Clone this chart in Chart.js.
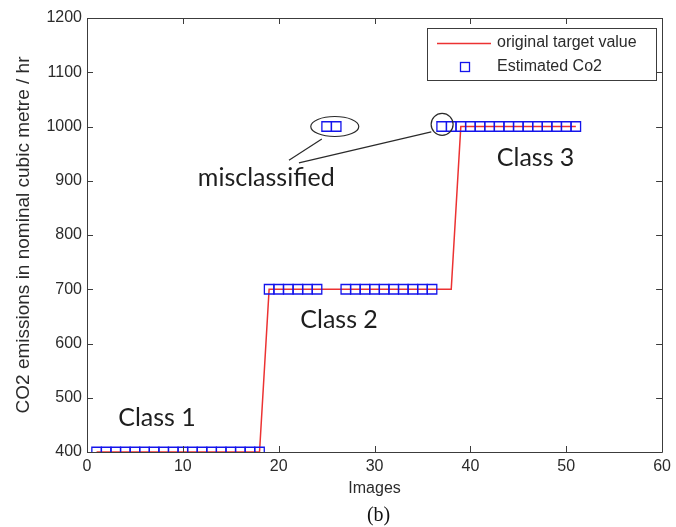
<!DOCTYPE html>
<html>
<head>
<meta charset="utf-8">
<script src="https://cdn.jsdelivr.net/npm/chart.js@4/dist/chart.umd.min.js"></script>
<style>
  html, body { margin: 0; padding: 0; background: #ffffff; }
  #wrap { width: 676px; height: 527px; }
</style>
</head>
<body>
<div id="wrap"><canvas id="co2Chart" width="676" height="527"></canvas></div>
<script>
// Image index along the x axis
const images = [1, 2, 3, 4, 5, 6, 7, 8, 9, 10, 11, 12, 13, 14, 15, 16, 17, 18,
  19, 20, 21, 22, 23, 24, 25, 26, 27, 28, 29, 30, 31, 32, 33, 34, 35, 36, 37, 38,
  39, 40, 41, 42, 43, 44, 45, 46, 47, 48, 49, 50, 51];

// Original target value (nominal m3/hr)
const targetValue = [400, 400, 400, 400, 400, 400, 400, 400, 400, 400, 400, 400, 400, 400, 400, 400, 400, 400,
  700, 700, 700, 700, 700, 700, 700, 700, 700, 700, 700, 700, 700, 700, 700, 700, 700, 700, 700, 700,
  1000, 1000, 1000, 1000, 1000, 1000, 1000, 1000, 1000, 1000, 1000, 1000, 1000];

// Estimated CO2 per image
const estimatedCo2 = [400, 400, 400, 400, 400, 400, 400, 400, 400, 400, 400, 400, 400, 400, 400, 400, 400, 400,
  700, 700, 700, 700, 700, 700, 1000, 1000, 700, 700, 700, 700, 700, 700, 700, 700, 700, 700, 1000, 1000,
  1000, 1000, 1000, 1000, 1000, 1000, 1000, 1000, 1000, 1000, 1000, 1000, 1000];

const xTickValues = [0, 10, 20, 30, 40, 50, 60];
const yTickValues = [400, 500, 600, 700, 800, 900, 1000, 1100, 1200];

const seriesNames = ['original target value', 'Estimated Co2'];

// Text callouts, placed in data units
const classLabels = [
  { text: 'Class 1', x: 7.3, y: 463 },
  { text: 'Class 2', x: 26.3, y: 643 },
  { text: 'Class 3', x: 46.8, y: 942 },
  { text: 'misclassified', x: 18.7, y: 905 }
];
const rings = [
  { x: 25.85, y: 1000, rx: 24, ry: 10 },
  { x: 37.05, y: 1004, rx: 11, ry: 11 }
];
const pointers = [
  { x1: 24.5, y1: 977, x2: 21.07, y2: 938 },
  { x1: 35.92, y1: 990, x2: 22.11, y2: 933 }
];

const RED = 'rgb(236, 50, 50)';
const BLUE = 'rgb(20, 20, 235)';
const AXIS = '#3c3c3c';
const TEXT = '#2b2b2b';

const boxAndTicks = {
  id: 'boxAndTicks',
  afterDatasetsDraw(chart) {
    const { ctx, chartArea: a, scales } = chart;
    ctx.save();
    ctx.strokeStyle = AXIS;
    ctx.lineWidth = 1;
    ctx.beginPath();
    ctx.rect(Math.round(a.left) + 0.5, Math.round(a.top) + 0.5,
             Math.round(a.right - a.left), Math.round(a.bottom - a.top));
    ctx.stroke();
    const len = 6;
    ctx.beginPath();
    xTickValues.forEach(v => {
      const px = Math.round(scales.x.getPixelForValue(v)) + 0.5;
      ctx.moveTo(px, a.bottom); ctx.lineTo(px, a.bottom - len);
      ctx.moveTo(px, a.top); ctx.lineTo(px, a.top + len);
    });
    yTickValues.forEach(v => {
      const py = Math.round(scales.y.getPixelForValue(v)) + 0.5;
      ctx.moveTo(a.left, py); ctx.lineTo(a.left + len, py);
      ctx.moveTo(a.right, py); ctx.lineTo(a.right - len, py);
    });
    ctx.stroke();
    ctx.restore();
  }
};

const callouts = {
  id: 'callouts',
  afterDatasetsDraw(chart) {
    const { ctx, scales } = chart;
    const X = v => scales.x.getPixelForValue(v);
    const Y = v => scales.y.getPixelForValue(v);
    ctx.save();
    ctx.strokeStyle = '#2a2a2a';
    ctx.lineWidth = 1.2;
    rings.forEach(r => {
      ctx.beginPath();
      ctx.ellipse(X(r.x), Y(r.y), r.rx, r.ry, 0, 0, Math.PI * 2);
      ctx.stroke();
    });
    pointers.forEach(p => {
      ctx.beginPath();
      ctx.moveTo(X(p.x1), Y(p.y1));
      ctx.lineTo(X(p.x2), Y(p.y2));
      ctx.stroke();
    });
    ctx.fillStyle = '#1e1e1e';
    ctx.font = '25px Lato';
    ctx.textAlign = 'center';
    ctx.textBaseline = 'middle';
    classLabels.forEach(l => ctx.fillText(l.text, X(l.x), Y(l.y)));
    ctx.restore();
  }
};

const boxedLegend = {
  id: 'boxedLegend',
  afterDraw(chart) {
    const { ctx } = chart;
    const left = 427, top = 28, width = 229, height = 52;
    ctx.save();
    ctx.fillStyle = '#ffffff';
    ctx.fillRect(left, top, width, height);
    ctx.strokeStyle = AXIS;
    ctx.lineWidth = 1;
    ctx.strokeRect(left + 0.5, top + 0.5, width, height);
    const ds = chart.data.datasets;
    // line sample
    ctx.strokeStyle = ds[0].borderColor;
    ctx.lineWidth = 1.5;
    ctx.beginPath();
    ctx.moveTo(437, 43.5); ctx.lineTo(491, 43.5);
    ctx.stroke();
    // marker sample
    ctx.strokeStyle = ds[1].borderColor;
    ctx.lineWidth = 1.3;
    ctx.strokeRect(460.5, 62.5, 9, 9);
    ctx.fillStyle = TEXT;
    ctx.font = '16px "Liberation Sans"';
    ctx.textAlign = 'left';
    ctx.textBaseline = 'middle';
    ctx.fillText(ds[0].label, 497, 43);
    ctx.fillText(ds[1].label, 497, 67);
    ctx.restore();
  }
};

const caption = {
  id: 'caption',
  afterDraw(chart) {
    const { ctx, chartArea: a } = chart;
    ctx.save();
    ctx.fillStyle = '#111111';
    ctx.font = '20px "Liberation Serif"';
    ctx.textAlign = 'center';
    ctx.textBaseline = 'middle';
    ctx.fillText('(b)', (a.left + a.right) / 2 + 4, 516);
    ctx.restore();
  }
};

new Chart(document.getElementById('co2Chart'), {
  type: 'scatter',
  data: {
    datasets: [
      {
        label: seriesNames[0],
        data: images.map((x, i) => ({ x, y: targetValue[i] })),
        showLine: true,
        borderColor: RED,
        borderWidth: 1.5,
        pointRadius: 0,
        order: 2
      },
      {
        label: seriesNames[1],
        data: images.map((x, i) => ({ x, y: estimatedCo2[i] })),
        showLine: false,
        pointStyle: 'rect',
        pointRadius: 6.7,
        pointBorderWidth: 1.3,
        borderColor: BLUE,
        backgroundColor: 'rgba(0,0,0,0)',
        order: 1
      }
    ]
  },
  options: {
    responsive: false,
    devicePixelRatio: 1,
    animation: false,
    layout: { padding: { left: 0, right: 11, top: 18, bottom: 0 } },
    plugins: { legend: { display: false }, tooltip: { enabled: false } },
    scales: {
      x: {
        type: 'linear', min: 0, max: 60,
        afterBuildTicks: s => { s.ticks = xTickValues.map(v => ({ value: v })); },
        afterFit: s => { s.height = 75; },
        grid: { display: false, drawTicks: false },
        border: { display: false },
        ticks: { color: TEXT, font: { family: 'Liberation Sans', size: 16 }, padding: 5, maxRotation: 0,
                 callback: v => String(v) },
        title: { display: true, text: 'Images', color: TEXT,
                 font: { family: 'Liberation Sans', size: 16 }, padding: { top: 0, bottom: 29 } }
      },
      y: {
        min: 400, max: 1200,
        afterBuildTicks: s => { s.ticks = yTickValues.map(v => ({ value: v })); },
        afterFit: s => { s.width = 87; },
        grid: { display: false, drawTicks: false },
        border: { display: false },
        ticks: { color: TEXT, font: { family: 'Liberation Sans', size: 16 }, padding: 5,
                 callback: v => String(v) },
        title: { display: true, text: 'CO2 emissions in nominal cubic metre / hr', color: TEXT,
                 font: { family: 'Liberation Sans', size: 19 }, padding: { top: 12, bottom: 0 } }
      }
    }
  },
  plugins: [boxAndTicks, callouts, boxedLegend, caption]
});
</script>
</body>
</html>
